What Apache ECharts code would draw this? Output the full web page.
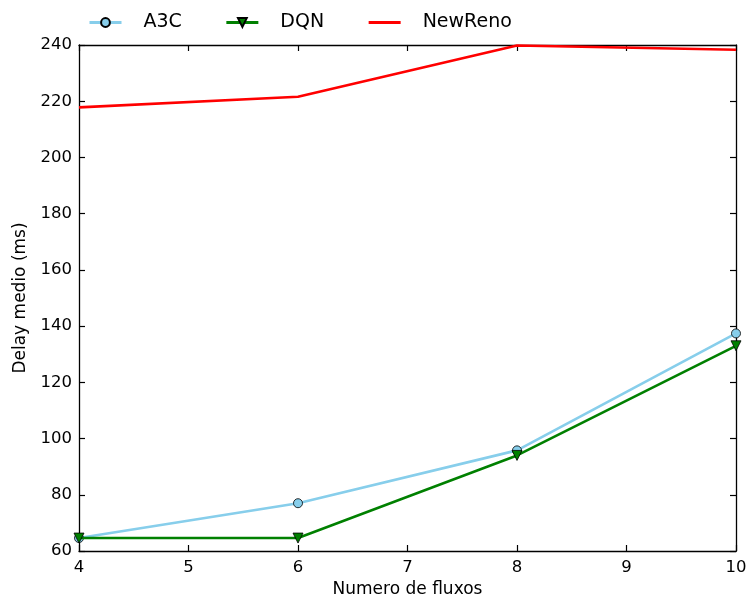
<!DOCTYPE html>
<html>
<head>
<meta charset="utf-8">
<script src="https://cdn.jsdelivr.net/npm/echarts@6/dist/echarts.min.js"></script>
<style>html,body{margin:0;padding:0;background:#fff}#c{width:750px;height:603px}</style>
</head>
<body>
<div id="c"></div>
<script>
const xValues = [4, 6, 8, 10];
const a3c = [64.6, 77.0, 95.8, 137.4];
const dqn = [64.6, 64.6, 94.0, 133.0];
const newReno = [217.8, 221.6, 239.8, 238.3];
const seriesNames = ['A3C', 'DQN', 'NewReno'];

const font = 'DejaVu Sans';
const chart = echarts.init(document.getElementById('c'), null, {renderer: 'canvas'});
const pairs = arr => xValues.map((x, i) => [x, arr[i]]);

const baseAxisX = {
  type: 'value', min: 4, max: 10, interval: 1,
  splitLine: {show: false},
  axisLine: {show: true, lineStyle: {color: '#000', width: 1.3}},
  axisTick: {show: true, inside: true, length: 6, lineStyle: {color: '#000', width: 1.2}}
};
const baseAxisY = {
  type: 'value', min: 60, max: 240, interval: 20,
  splitLine: {show: false},
  axisLine: {show: true, lineStyle: {color: '#000', width: 1.3}},
  axisTick: {show: true, inside: true, length: 6, lineStyle: {color: '#000', width: 1.2}}
};

chart.setOption({
  animation: false,
  backgroundColor: '#fff',
  textStyle: {fontFamily: font},
  grid: {left: 79, right: 14, top: 45, bottom: 49, containLabel: false},
  legend: {
    top: 8, left: 83,
    itemGap: 43, itemWidth: 32, itemHeight: 11,
    textStyle: {fontFamily: font, fontSize: 19, color: '#000', padding: [0, 0, 0, 17]},
    data: [
      {name: seriesNames[0], lineStyle: {width: 3}},
      {name: seriesNames[1], lineStyle: {width: 3}},
      {name: seriesNames[2], lineStyle: {width: 3}, itemStyle: {opacity: 0}}
    ]
  },
  xAxis: [
    Object.assign({}, baseAxisX, {
      position: 'bottom',
      name: 'Numero de fluxos', nameLocation: 'middle', nameGap: 30,
      nameTextStyle: {fontFamily: font, fontSize: 17, color: '#000'},
      axisLabel: {fontFamily: font, fontSize: 16.5, color: '#000', margin: 8}
    }),
    Object.assign({}, baseAxisX, {position: 'top', axisLabel: {show: false}})
  ],
  yAxis: [
    Object.assign({}, baseAxisY, {
      position: 'left',
      name: 'Delay medio (ms)', nameLocation: 'middle', nameGap: 50,
      nameTextStyle: {fontFamily: font, fontSize: 17, color: '#000'},
      axisLabel: {fontFamily: font, fontSize: 16.5, color: '#000', margin: 7}
    }),
    Object.assign({}, baseAxisY, {position: 'right', axisLabel: {show: false}})
  ],
  series: [
    {
      name: 'A3C', type: 'line', data: pairs(a3c),
      symbol: 'circle', symbolSize: 9,
      lineStyle: {color: '#87CEEB', width: 2.6},
      itemStyle: {color: '#87CEEB', borderColor: '#000', borderWidth: 0.8},
      z: 3
    },
    {
      name: 'DQN', type: 'line', data: pairs(dqn),
      symbol: 'triangle', symbolRotate: 180, symbolSize: 10,
      lineStyle: {color: '#008000', width: 2.6},
      itemStyle: {color: '#008000', borderColor: '#000', borderWidth: 0.8},
      z: 4
    },
    {
      name: 'NewReno', type: 'line', data: pairs(newReno),
      symbol: 'none', showSymbol: false,
      lineStyle: {color: '#FF0000', width: 2.6},
      itemStyle: {color: '#FF0000'},
      z: 2
    }
  ]
});
</script>
</body>
</html>
